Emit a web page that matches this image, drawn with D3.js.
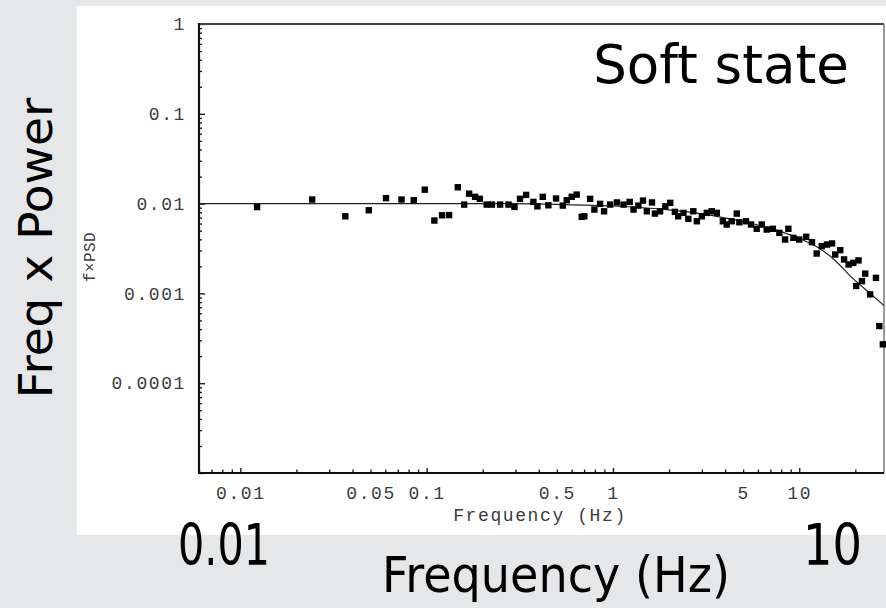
<!DOCTYPE html>
<html>
<head>
<meta charset="utf-8">
<script src="https://cdn.jsdelivr.net/npm/d3@7"></script>
<style>
  body { margin: 0; background: #e6e7e9; }
  svg { display: block; }
</style>
</head>
<body>
<div id="chart"></div>
<script>
// measured points (frequency in Hz, f x PSD)
const freq = [0.0123, 0.0243, 0.0366, 0.0489, 0.0605, 0.0733, 0.0853, 0.0977, 0.110, 0.121,
  0.132, 0.147, 0.159, 0.169, 0.182, 0.193, 0.210, 0.224, 0.248, 0.275,
  0.296, 0.317, 0.342, 0.374, 0.393, 0.420, 0.450, 0.495, 0.538, 0.565,
  0.601, 0.639, 0.680, 0.702, 0.754, 0.795, 0.853, 0.896, 0.965, 1.05,
  1.14, 1.23, 1.29, 1.37, 1.45, 1.52, 1.62, 1.68, 1.79, 1.91,
  2.03, 2.15, 2.24, 2.39, 2.54, 2.70, 2.82, 3.00, 3.19, 3.39,
  3.61, 3.89, 4.08, 4.34, 4.62, 4.77, 5.18, 5.51, 5.91, 6.29,
  6.69, 7.21, 7.82, 8.39, 8.74, 9.30, 10.0, 10.9, 11.7, 12.4,
  13.2, 14.1, 15.0, 15.6, 16.6, 17.4, 18.4, 19.5, 20.8, 20.2,
  21.7, 22.6, 24.0, 25.8, 26.9, 28.1];
const power = [0.00915, 0.0111, 0.00722, 0.00843, 0.0115, 0.0111, 0.0109, 0.0143, 0.00648, 0.00741,
  0.00745, 0.0152, 0.00975, 0.0129, 0.0119, 0.0113, 0.00975, 0.00975, 0.00975, 0.00975,
  0.00919, 0.0113, 0.0125, 0.01045, 0.00933, 0.0119, 0.00958, 0.0114, 0.0095, 0.0109,
  0.0119, 0.0126, 0.00712, 0.00722, 0.0113, 0.00858, 0.00993, 0.00821, 0.00975, 0.0103,
  0.00975, 0.01045, 0.00858, 0.0095, 0.0108, 0.00821, 0.0103, 0.00774, 0.00821, 0.00933,
  0.0102, 0.00809, 0.00722, 0.00788, 0.00676, 0.00821, 0.00636, 0.00722, 0.00788, 0.00821,
  0.00788, 0.00636, 0.00585, 0.00636, 0.00774, 0.0062, 0.00636, 0.00585, 0.00524, 0.00585,
  0.00514, 0.00524, 0.00472, 0.00398, 0.00524, 0.00416, 0.00398, 0.00427, 0.00372, 0.00278,
  0.00336, 0.0035, 0.0036, 0.00271, 0.00303, 0.00239, 0.0021, 0.00219, 0.00233, 0.00121,
  0.00137, 0.00166, 0.000975, 0.00149, 0.000433, 0.000271];

// fitted model curve
const modelFreq = [0.006, 0.05, 0.2, 0.5, 1, 2, 3, 5, 7, 10, 12.4, 15, 19.5, 25, 28.5];
const modelPower = [0.0100, 0.0100, 0.0100, 0.0098, 0.0094, 0.0085, 0.0077, 0.0063, 0.0053, 0.0041, 0.0033, 0.0025, 0.00145, 0.00093, 0.00073];

const xTickLabels = [0.01, 0.05, 0.1, 0.5, 1, 5, 10];
const yTickLabels = [1, 0.1, 0.01, 0.001, 0.0001];

const W = 886, H = 608;
const plot = {left: 199, right: 884, top: 24, bottom: 473};

const svg = d3.select('#chart').append('svg').attr('width', W).attr('height', H);

svg.append('rect').attr('width', W).attr('height', H).attr('fill', '#e6e7e9');
// white slide panel
svg.append('rect').attr('x', 77).attr('y', 6).attr('width', W - 77).attr('height', 529).attr('fill', '#ffffff');

const x = d3.scaleLog().domain([0.006, 28.5]).range([plot.left, plot.right]);
const y = d3.scaleLog().domain([1e-5, 1]).range([plot.bottom, plot.top]);

const mono = '"Liberation Mono", "Courier New", monospace';
const isDecade = v => Math.abs(Math.log10(v) - Math.round(Math.log10(v))) < 1e-6;

// x axis: minor ticks, then labels
let gx = svg.append('g').attr('transform', 'translate(0,' + plot.bottom + ')');
gx.call(d3.axisBottom(x).tickValues(x.ticks()).tickSizeInner(-3).tickSizeOuter(0).tickFormat(''));
gx.selectAll('line').attr('y2', d => isDecade(d) ? -5 : -3.5);
let gxl = svg.append('g').attr('transform', 'translate(0,' + plot.bottom + ')');
gxl.call(d3.axisBottom(x).tickValues(xTickLabels).tickSize(0).tickPadding(13).tickFormat(d => String(d)));
[gx, gxl].forEach(g => g.select('.domain').remove());

// y axis
let gy = svg.append('g').attr('transform', 'translate(' + plot.left + ',0)');
gy.call(d3.axisLeft(y).tickValues(y.ticks()).tickSizeInner(-3).tickSizeOuter(0).tickFormat(''));
gy.selectAll('line').attr('x2', d => isDecade(d) ? 6 : 3);
let gyl = svg.append('g').attr('transform', 'translate(' + plot.left + ',0)');
gyl.call(d3.axisLeft(y).tickValues(yTickLabels).tickSize(0).tickPadding(13).tickFormat(d => String(d)));
[gy, gyl].forEach(g => g.select('.domain').remove());

svg.selectAll('.tick line').attr('stroke', '#111').attr('stroke-width', 1.3);
svg.selectAll('.tick text')
  .attr('font-family', mono).attr('font-size', 18).attr('letter-spacing', 1.6)
  .attr('fill', '#3c3c3c');

// frame
svg.append('line').attr('x1', plot.left).attr('x2', plot.right).attr('y1', plot.top).attr('y2', plot.top)
  .attr('stroke', '#444').attr('stroke-width', 2);
svg.append('line').attr('x1', plot.right).attr('x2', plot.right).attr('y1', plot.top).attr('y2', plot.bottom)
  .attr('stroke', '#777').attr('stroke-width', 1.5);
svg.append('line').attr('x1', plot.left).attr('x2', plot.left).attr('y1', plot.top - 1).attr('y2', plot.bottom + 1)
  .attr('stroke', '#111').attr('stroke-width', 2.2);
svg.append('line').attr('x1', plot.left).attr('x2', plot.right).attr('y1', plot.bottom).attr('y2', plot.bottom)
  .attr('stroke', '#111').attr('stroke-width', 2.2);

// model
const model = modelFreq.map((f, i) => ({f: f, p: modelPower[i]}));
const line = d3.line().x(d => x(d.f)).y(d => y(d.p)).curve(d3.curveMonotoneX);
svg.append('path').datum(model).attr('d', line)
  .attr('fill', 'none').attr('stroke', '#222').attr('stroke-width', 1.2);

// points
const pts = freq.map((f, i) => ({f: f, p: power[i]}));
svg.append('g').selectAll('rect').data(pts).enter().append('rect')
  .attr('x', d => x(d.f) - 3.2).attr('y', d => y(d.p) - 3.2)
  .attr('width', 6.4).attr('height', 6.4).attr('fill', '#000');

// small axis titles
svg.append('text').attr('x', 540).attr('y', 521).attr('text-anchor', 'middle')
  .attr('font-family', mono).attr('font-size', 18).attr('letter-spacing', 1.6).attr('fill', '#3c3c3c')
  .text('Frequency (Hz)');
svg.append('text').attr('transform', 'translate(95,257) rotate(-90)').attr('text-anchor', 'middle')
  .attr('font-family', mono).attr('font-size', 16).attr('letter-spacing', 0.4).attr('fill', '#3c3c3c')
  .text('f×PSD');

// slide annotations
const hand = '"Comic Sans MS", "DejaVu Sans", sans-serif';
svg.append('text').attr('x', 721).attr('y', 83).attr('text-anchor', 'middle')
  .attr('font-family', hand).attr('font-size', 53).attr('fill', '#000').text('Soft state');
svg.append('text').attr('transform', 'translate(52,248) rotate(-90)').attr('text-anchor', 'middle')
  .attr('font-family', hand).attr('font-size', 47).attr('fill', '#000').text('Freq x Power');
svg.append('text').attr('x', 178).attr('y', 565)
  .attr('font-family', hand).attr('font-size', 57).attr('textLength', 92)
  .attr('lengthAdjust', 'spacingAndGlyphs').attr('fill', '#000').text('0.01');
svg.append('text').attr('x', 803).attr('y', 565)
  .attr('font-family', hand).attr('font-size', 57).attr('textLength', 59)
  .attr('lengthAdjust', 'spacingAndGlyphs').attr('fill', '#000').text('10');
svg.append('text').attr('x', 382).attr('y', 592)
  .attr('font-family', hand).attr('font-size', 50).attr('textLength', 348)
  .attr('lengthAdjust', 'spacingAndGlyphs').attr('fill', '#000').text('Frequency (Hz)');
</script>
</body>
</html>
